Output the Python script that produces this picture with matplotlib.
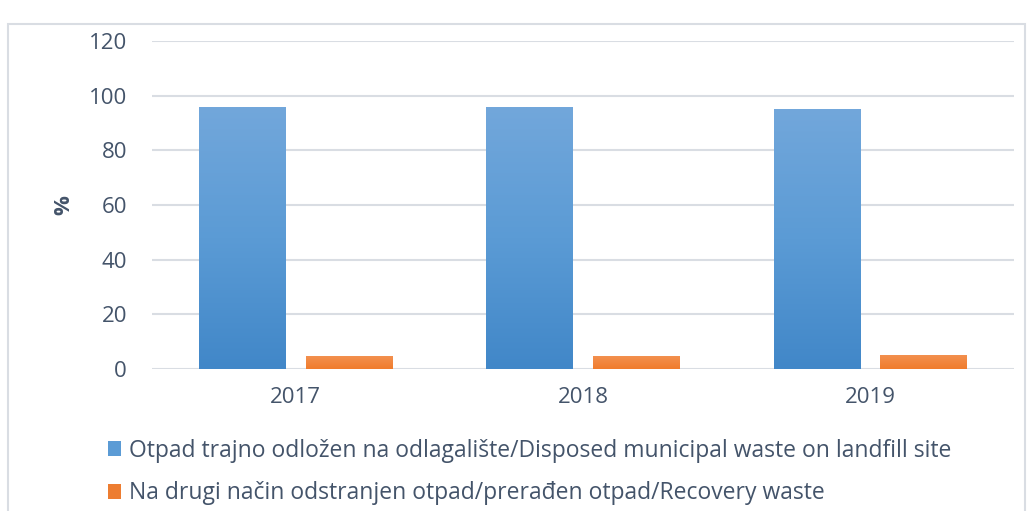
import numpy as np
import matplotlib.pyplot as plt
from matplotlib.patches import Rectangle
from matplotlib.colors import LinearSegmentedColormap

years = ['2017', '2018', '2019']
disposed = [95.5, 95.5, 95.1]
recovery = [4.5, 4.5, 4.9]
labels = ['Otpad trajno odložen na odlagalište/Disposed municipal waste on landfill site',
          'Na drugi način odstranjen otpad/prerađen otpad/Recovery waste']

plt.rcParams['font.family'] = ['Open Sans', 'DejaVu Sans']
txt = '#44546A'

fig = plt.figure(figsize=(10.33, 5.11), dpi=100)
ax = fig.add_axes([152 / 1033, 1 - 369 / 511, (1014 - 152) / 1033, (369 - 41) / 511])

# outer frame
fig.patches.append(Rectangle((8 / 1033, -0.05), (1025 - 8) / 1033, 1.03 - 14 / 511,
                             transform=fig.transFigure, fill=False,
                             edgecolor='#D9DDE3', linewidth=1.5))

x = np.arange(len(years))
w = 0.302
b1 = ax.bar(x - 0.186, disposed, w, color='#5B9BD5', label=labels[0], zorder=2)
b2 = ax.bar(x + 0.186, recovery, w, color='#ED7D31', label=labels[1], zorder=2)

# vertical gradient fill like the original
grad = np.linspace(0, 1, 256).reshape(-1, 1)
cm_blue = LinearSegmentedColormap.from_list('b', ['#4187C8', '#5B9BD5', '#72A7DB'])
cm_orange = LinearSegmentedColormap.from_list('o', ['#F07C2C', '#F3904F'])
for bars, cm in ((b1, cm_blue), (b2, cm_orange)):
    for p in bars:
        x0, y0 = p.get_x(), p.get_y()
        ax.imshow(grad, cmap=cm, aspect='auto', origin='lower', zorder=3,
                  extent=(x0, x0 + p.get_width(), y0, y0 + p.get_height()))

ax.set_xlim(-0.5, 2.5)
ax.set_ylim(0, 120)
ax.set_yticks(range(0, 121, 20))
ax.set_xticks(x)
ax.set_xticklabels(years)
ax.yaxis.grid(True, color='#D9DDE3', linewidth=1.5, zorder=0)
ax.set_axisbelow(True)
for s in ax.spines.values():
    s.set_visible(False)
ax.tick_params(length=0, labelsize=16, colors=txt)
ax.tick_params(axis='y', pad=18)
ax.tick_params(axis='x', pad=13)
ax.set_ylabel('%', fontsize=16, fontweight='bold', color=txt, labelpad=10)

fig.legend(handles=[b1, b2], labels=labels, loc='upper left',
           bbox_to_anchor=(87 / 1033, 1 - 418 / 511), frameon=False,
           fontsize=16.5, labelcolor=txt, handlelength=0.6, handleheight=0.6,
           handletextpad=0.35, labelspacing=0.82)

fig.savefig('out.png', dpi=100)
